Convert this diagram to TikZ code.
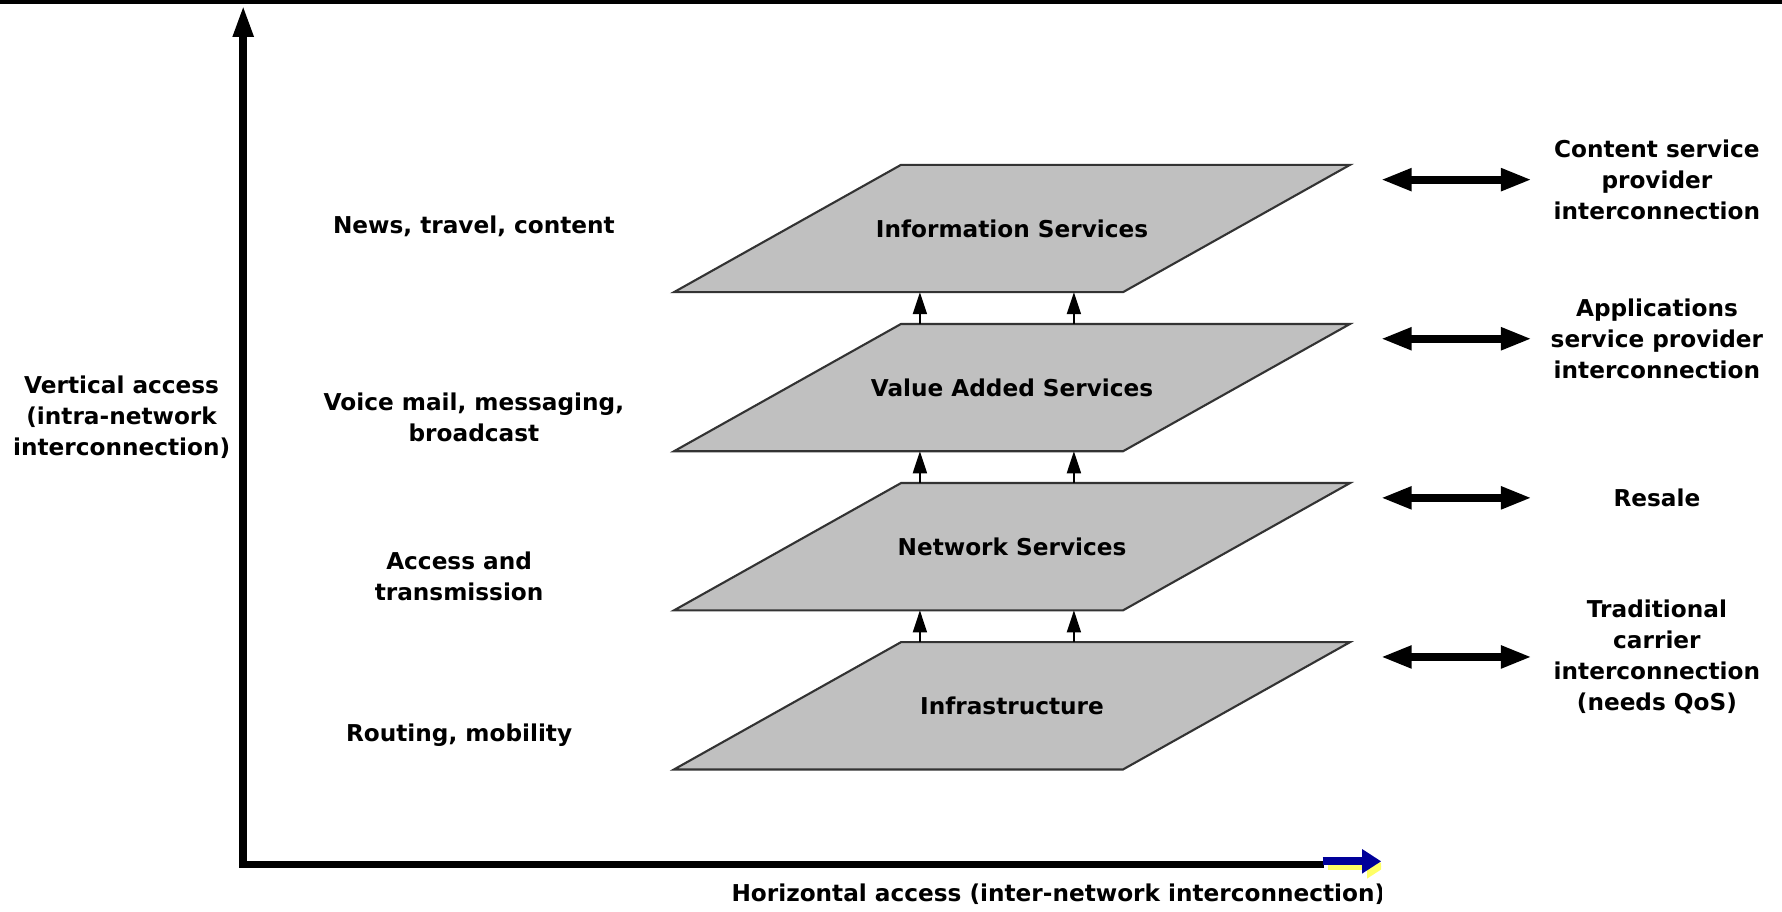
\documentclass[tikz,border=0pt]{standalone}
\usepackage{fontspec}
\setmainfont{DejaVu Sans}
\usepackage{xcolor}
\usepackage{tikz}
\usetikzlibrary{arrows.meta,positioning,backgrounds}
\definecolor{axisblue}{RGB}{0,0,153}
\definecolor{shadowyellow}{RGB}{255,255,102}
\definecolor{planegray}{RGB}{192,192,192}
\tikzset{
  plane/.style={
    rectangle, minimum width=6.76cm, minimum height=1.273cm,
    inner sep=0pt, outer sep=0pt,
    font=\fontsize{6.6}{8.9}\selectfont\bfseries
  },
  planeface/.style={draw=black!80, fill=planegray, line width=0.6pt},
  sidetext/.style={
    align=center, inner sep=0pt,
    font=\fontsize{6.6}{8.9}\selectfont\bfseries
  },
  axis/.style={line width=2.2pt, -{Triangle[length=3.2mm,width=1.9mm]}},
  lift/.style={line width=0.5pt, -{Triangle[length=2.2mm,width=1.4mm]}},
  link/.style={line width=2.2pt,
    {Triangle[length=3.1mm,width=2.1mm]}-{Triangle[length=3.1mm,width=2.1mm]}},
  bluetip/.style={line width=2.2pt, -{Triangle[length=1.9mm,width=2.3mm]}},
}

\begin{document}
\begin{tikzpicture}
  \useasboundingbox (0,0) rectangle (17.82,9.115);
  % Top bar
  \fill (0,9.07) rectangle (17.82,9.115);

  % Layers
  \node[plane] (info) at (10.12,6.83) {Information Services};
  \node[plane, below=0.318cm of info] (vas) {Value Added Services};
  \node[plane, below=0.318cm of vas] (net) {Network Services};
  \node[plane, below=0.318cm of net] (infra) {Infrastructure};
  \begin{scope}[on background layer]
    \foreach \p in {info,vas,net,infra}
      \path[planeface] ([xshift=2.27cm]\p.north west) -- (\p.north east)
        -- ([xshift=-2.27cm]\p.south east) -- (\p.south west) -- cycle;
  \end{scope}

  % Arrows between layers
  \draw[lift] ([xshift=-0.921cm]vas.north) -- ([xshift=-0.921cm]info.south);
  \draw[lift] ([xshift=0.619cm]vas.north) -- ([xshift=0.619cm]info.south);
  \draw[lift] ([xshift=-0.921cm]net.north) -- ([xshift=-0.921cm]vas.south);
  \draw[lift] ([xshift=0.619cm]net.north) -- ([xshift=0.619cm]vas.south);
  \draw[lift] ([xshift=-0.921cm]infra.north) -- ([xshift=-0.921cm]net.south);
  \draw[lift] ([xshift=0.619cm]infra.north) -- ([xshift=0.619cm]net.south);

  % Axes
  \coordinate (origin) at (2.432,0.47);
  \coordinate (ytip) at (2.432,9.065);
  \coordinate (xstop) at (13.24,0.47);
  \draw[axis] (xstop) -- (origin) -- (ytip);
  \begin{scope}
    \clip (0,0) rectangle (13.812,1);
    \coordinate (bstart) at (13.225,0.502);
    \coordinate (btip) at (13.812,0.502);
    \draw[bluetip, shadowyellow] ([shift={(0.05,-0.05)}]bstart) -- ([shift={(0.05,-0.05)}]btip);
    \draw[bluetip, axisblue] (bstart) -- (btip);
    \node[sidetext, anchor=west] (xlabel) at (7.308,0.17)
      {Horizontal access (inter-network interconnection)};
  \end{scope}
  \node[sidetext] (ylabel) at (1.216,4.944)
    {Vertical access\\(intra-network\\interconnection)};

  % Left notes
  \node[sidetext] (infouse) at (4.739,6.853) {News, travel, content};
  \node[sidetext] (vasuse) at (4.739,4.944) {Voice mail, messaging,\\broadcast};
  \node[sidetext] (netuse) at (4.591,3.353) {Access and\\transmission};
  \node[sidetext] (infrause) at (4.591,1.762) {Routing, mobility};

  % Interconnection on the right
  \coordinate (infoin) at ([xshift=3.07mm,yshift=-1.48mm]info.north east);
  \coordinate (infoout) at ([xshift=1.512cm]infoin);
  \coordinate (vasin) at ([xshift=3.07mm,yshift=-1.48mm]vas.north east);
  \coordinate (vasout) at ([xshift=1.512cm]vasin);
  \coordinate (netin) at ([xshift=3.07mm,yshift=-1.48mm]net.north east);
  \coordinate (netout) at ([xshift=1.512cm]netin);
  \coordinate (infrain) at ([xshift=3.07mm,yshift=-1.48mm]infra.north east);
  \coordinate (infraout) at ([xshift=1.512cm]infrain);
  \draw[link] (infoin) -- (infoout);
  \draw[link] (vasin) -- (vasout);
  \draw[link] (netin) -- (netout);
  \draw[link] (infrain) -- (infraout);
  \node[sidetext] (infoside) at ([xshift=1.25cm]infoout)
    {Content service\\provider\\interconnection};
  \node[sidetext] (vasside) at ([xshift=1.25cm]vasout)
    {Applications\\service provider\\interconnection};
  \node[sidetext] (netside) at ([xshift=1.25cm]netout) {Resale};
  \node[sidetext] (infraside) at ([xshift=1.25cm]infraout)
    {Traditional\\carrier\\interconnection\\(needs QoS)};
\end{tikzpicture}
\end{document}
